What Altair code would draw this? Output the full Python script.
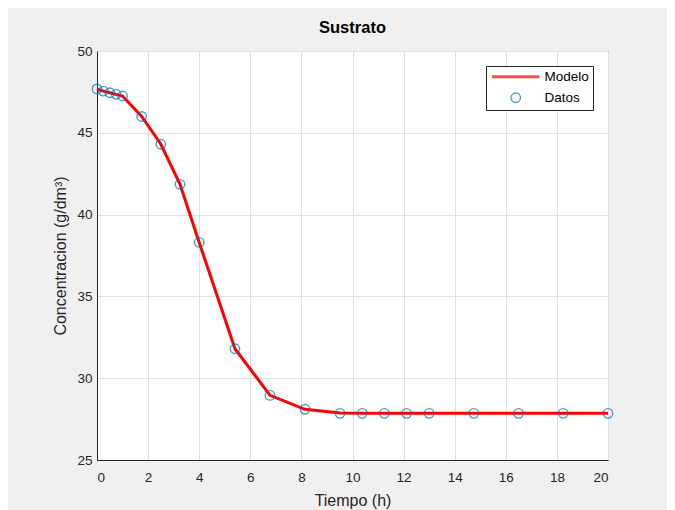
import altair as alt
import pandas as pd

# Data
t_datos = [0, 0.25, 0.5, 0.75, 1.0, 1.75, 2.5, 3.25, 4.0, 5.4, 6.77, 8.14,
           9.51, 10.38, 11.25, 12.12, 13.0, 14.75, 16.5, 18.25, 20.0]
c_datos = [47.68, 47.55, 47.45, 47.35, 47.25, 46.0, 44.3, 41.85, 38.3, 31.8, 28.95, 28.1,
           27.85, 27.85, 27.85, 27.85, 27.85, 27.85, 27.85, 27.85, 27.85]

t_modelo = [0, 0.25, 0.5, 0.75, 1.0, 1.75, 2.5, 3.25, 4.0, 5.4, 6.77, 8.14,
            9.51, 10.38, 11.25, 12.12, 13.0, 14.75, 16.5, 18.25, 20.0]
c_modelo = [47.68, 47.55, 47.45, 47.35, 47.25, 46.0, 44.3, 41.85, 38.3, 31.8, 28.95, 28.1,
            27.87, 27.85, 27.85, 27.85, 27.85, 27.85, 27.85, 27.85, 27.85]

series = ["Modelo", "Datos"]
colors = ["#ff0000", "#0072BD"]

df_m = pd.DataFrame({"t": t_modelo, "c": c_modelo, "serie": "Modelo"})
df_d = pd.DataFrame({"t": t_datos, "c": c_datos, "serie": "Datos"})

FONT = "Liberation Sans"

xenc = alt.X("t:Q", scale=alt.Scale(domain=[0, 20], nice=False),
             axis=alt.Axis(title="Tiempo (h)", values=list(range(0, 21, 2))))
yenc = alt.Y("c:Q", scale=alt.Scale(domain=[25, 50], nice=False),
             axis=alt.Axis(title="Concentracion (g/dm³)", values=[25, 30, 35, 40, 45, 50]))

legend = alt.Legend(title=None, orient="none", legendX=389, legendY=15,
                    fillColor="white", strokeColor="#262626", padding=4,
                    labelFont=FONT, labelFontSize=13.5, labelColor="#000000",
                    symbolSize=90, symbolOffset=19, labelOffset=22, rowPadding=6)

color = alt.Color("serie:N", scale=alt.Scale(domain=series, range=colors), legend=legend)

line = alt.Chart(df_m).mark_line(strokeWidth=3).encode(
    x=xenc, y=yenc, color=color
)

points = alt.Chart(df_d).mark_point(filled=False, size=90).encode(
    x=xenc, y=yenc, color=color,
    shape=alt.Shape("serie:N", scale=alt.Scale(domain=series, range=["M-5,0H5", "circle"]), legend=legend),
    strokeWidth=alt.StrokeWidth("serie:N", scale=alt.Scale(domain=series, range=[3, 1.4]), legend=legend),
)

chart = alt.layer(line, points).properties(
    width=511, height=409,
    title=alt.Title("Sustrato", font=FONT, fontSize=16.5, fontWeight="bold", color="#000000", offset=8),
    background="#f0f0f0",
    autosize=alt.AutoSizeParams(type="none"),
    padding={"left": 89, "top": 43, "right": 59, "bottom": 50},
).configure_view(
    fill="white", stroke="#262626", strokeWidth=1
).configure_axis(
    labelFont=FONT, labelFontSize=13.5, labelColor="#262626",
    titleFont=FONT, titleFontSize=16, titleColor="#262626", titleFontWeight="normal",
    domainColor="#262626", tickColor="#262626", tickSize=0,
    gridColor="#e0e0e0", gridOpacity=1,
).configure_axisX(titlePadding=9, labelPadding=10).configure_axisY(titlePadding=8, labelPadding=5)

chart.save("out.html", embed_options={"renderer": "svg", "actions": False})
